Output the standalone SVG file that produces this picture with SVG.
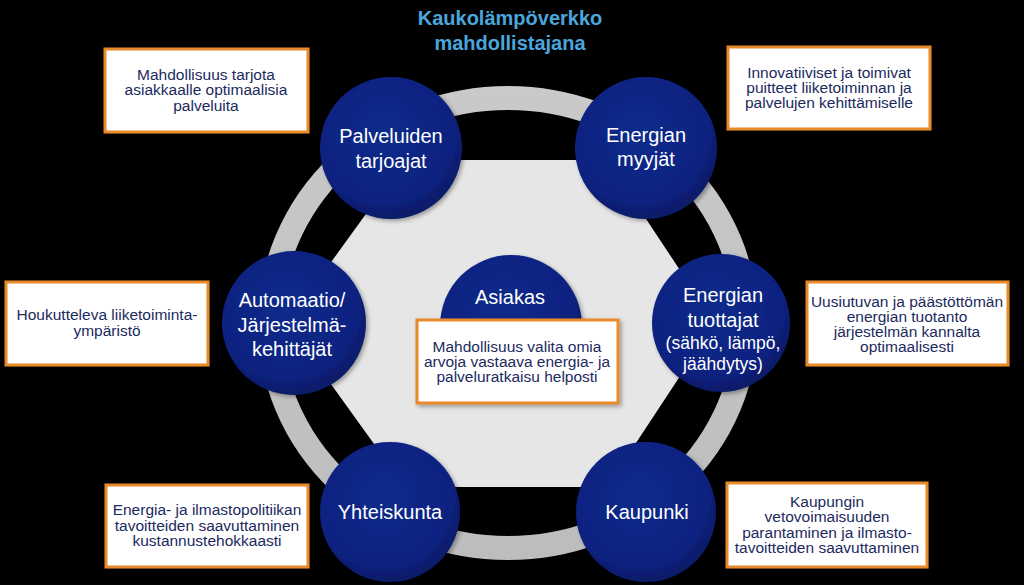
<svg xmlns="http://www.w3.org/2000/svg" width="1024" height="585" viewBox="0 0 1024 585">
<defs>
<radialGradient id="navy" cx="45%" cy="40%" r="60%">
<stop offset="0" stop-color="#112c8c"/>
<stop offset="0.8" stop-color="#0a2280"/>
<stop offset="1" stop-color="#071a66"/>
</radialGradient>
<linearGradient id="ringg" x1="0" y1="0" x2="0" y2="1">
<stop offset="0" stop-color="#c9c9c9"/>
<stop offset="1" stop-color="#bdbdbd"/>
</linearGradient>
<filter id="sh" x="-10%" y="-10%" width="130%" height="130%">
<feDropShadow dx="2" dy="2" stdDeviation="2" flood-color="#000" flood-opacity="0.35"/>
</filter>
</defs>
<style>
.node circle{fill:url(#navy);filter:url(#sh)}
.nt{font-family:"Liberation Sans",Arial,sans-serif;font-size:20px;fill:#ffffff;text-anchor:middle}
.box rect{fill:#ffffff;stroke:#e8892c;stroke-width:3;filter:url(#sh)}
.bt{font-family:"Liberation Sans",Arial,sans-serif;font-size:15.5px;fill:#1c2a5e;text-anchor:middle}
.title{font-family:"Liberation Sans",Arial,sans-serif;font-size:20px;font-weight:bold;fill:#4aa6dc;text-anchor:middle}
</style>
<rect x="0" y="0" width="1024" height="585" fill="#000000"/>
<g id="title">
<text class="title" x="510" y="25">Kaukolämpöverkko</text>
<text class="title" x="510" y="50">mahdollistajana</text>
</g>
<g id="background">
<ellipse cx="508" cy="323" rx="238" ry="225" fill="none" stroke="url(#ringg)" stroke-width="24"/>
<polygon points="405,160 607,160 715,323 607,487 405,487 287,323" fill="#e6e6e6"/>
</g>
<g id="connectors"></g>
<g id="node-palveluiden" class="node">
<circle cx="391" cy="148" r="71"/>
<text class="nt" x="391" y="143">Palveluiden</text>
<text class="nt" x="391" y="168">tarjoajat</text>
</g>
<g id="node-myyjat" class="node">
<circle cx="646" cy="148" r="71"/>
<text class="nt" x="646" y="142">Energian</text>
<text class="nt" x="646" y="166">myyjät</text>
</g>
<g id="node-automaatio" class="node">
<circle cx="294" cy="323" r="72"/>
<text class="nt" x="292" y="307">Automaatio/</text>
<text class="nt" x="292" y="332">Järjestelmä-</text>
<text class="nt" x="292" y="356">kehittäjät</text>
</g>
<g id="node-tuottajat" class="node">
<circle cx="721" cy="323" r="69"/>
<text class="nt" x="723" y="302">Energian</text>
<text class="nt" x="723" y="327">tuottajat</text>
<text class="nt" x="723" y="349" style="font-size:17.5px">(sähkö, lämpö,</text>
<text class="nt" x="723" y="370" style="font-size:17.5px">jäähdytys)</text>
</g>
<g id="node-asiakas" class="node">
<circle cx="511" cy="326" r="71"/>
<text class="nt" x="510" y="304">Asiakas</text>
</g>
<g id="node-yhteiskunta" class="node">
<circle cx="390" cy="512" r="70"/>
<text class="nt" x="390" y="519">Yhteiskunta</text>
</g>
<g id="node-kaupunki" class="node">
<circle cx="646" cy="512" r="70"/>
<text class="nt" x="647" y="519">Kaupunki</text>
</g>
<g id="box-palveluiden" class="box">
<rect x="105" y="49" width="203" height="83"/>
<text class="bt" x="206" y="80">Mahdollisuus tarjota</text>
<text class="bt" x="206" y="95">asiakkaalle optimaalisia</text>
<text class="bt" x="206" y="111">palveluita</text>
</g>
<g id="box-myyjat" class="box">
<rect x="728" y="47" width="202" height="82"/>
<text class="bt" x="829" y="78">Innovatiiviset ja toimivat</text>
<text class="bt" x="829" y="93">puitteet liiketoiminnan ja</text>
<text class="bt" x="829" y="108">palvelujen kehittämiselle</text>
</g>
<g id="box-automaatio" class="box">
<rect x="6" y="282" width="202" height="83"/>
<text class="bt" x="107" y="320">Houkutteleva liiketoiminta-</text>
<text class="bt" x="107" y="336">ympäristö</text>
</g>
<g id="box-asiakas" class="box">
<rect x="417" y="320" width="201" height="83"/>
<text class="bt" x="517" y="352">Mahdollisuus valita omia</text>
<text class="bt" x="517" y="367">arvoja vastaava energia- ja</text>
<text class="bt" x="517" y="382">palveluratkaisu helposti</text>
</g>
<g id="box-tuottajat" class="box">
<rect x="807" y="282" width="201" height="83"/>
<text class="bt" x="907" y="307">Uusiutuvan ja päästöttömän</text>
<text class="bt" x="907" y="322">energian tuotanto</text>
<text class="bt" x="907" y="337">järjestelmän kannalta</text>
<text class="bt" x="907" y="352">optimaalisesti</text>
</g>
<g id="box-yhteiskunta" class="box">
<rect x="106" y="485" width="202" height="82"/>
<text class="bt" x="207" y="515">Energia- ja ilmastopolitiikan</text>
<text class="bt" x="207" y="531">tavoitteiden saavuttaminen</text>
<text class="bt" x="207" y="546">kustannustehokkaasti</text>
</g>
<g id="box-kaupunki" class="box">
<rect x="727" y="483" width="200" height="84"/>
<text class="bt" x="827" y="507">Kaupungin</text>
<text class="bt" x="827" y="522">vetovoimaisuuden</text>
<text class="bt" x="827" y="538">parantaminen ja ilmasto-</text>
<text class="bt" x="827" y="553">tavoitteiden saavuttaminen</text>
</g>
</svg>
